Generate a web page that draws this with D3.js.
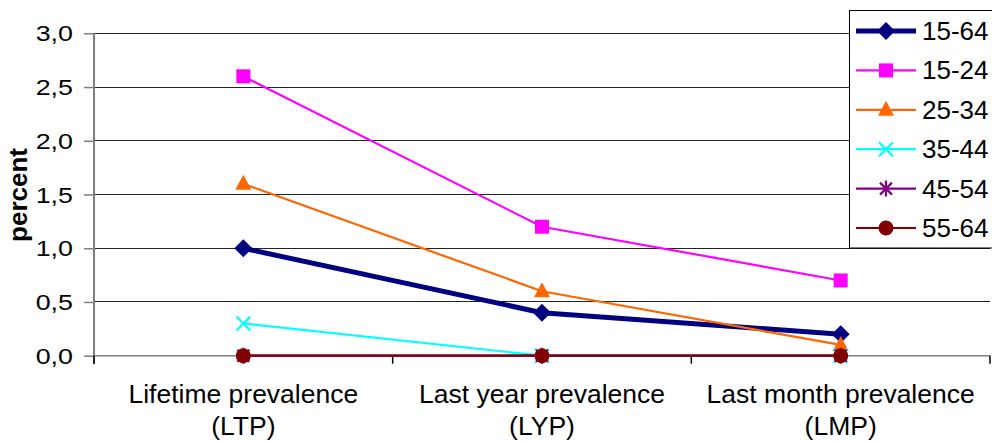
<!DOCTYPE html>
<html><head><meta charset="utf-8">
<script src="https://cdn.jsdelivr.net/npm/d3@7"></script>
<style>
html,body{margin:0;padding:0;background:#fff;}
svg{display:block;font-family:"Liberation Sans",Arial,sans-serif;}
</style></head>
<body><svg id="c" width="992" height="441"></svg>
<script>
const categories = [["Lifetime prevalence","(LTP)"],["Last year prevalence","(LYP)"],["Last month prevalence","(LMP)"]];
const seriesNames = ["15-64","15-24","25-34","35-44","45-54","55-64"];
const v1564 = [1.0, 0.4, 0.2];
const v1524 = [2.6, 1.2, 0.7];
const v2534 = [1.6, 0.6, 0.1];
const v3544 = [0.3, 0.0, 0.0];
const v4554 = [0.0, 0.0, 0.0];
const v5564 = [0.0, 0.0, 0.0];
const yTicks = [0, 0.5, 1.0, 1.5, 2.0, 2.5, 3.0];
const yTitle = "percent";

const colors = ["#000080","#FF00FF","#FF6600","#00FFFF","#800080","#800000"];
const markers = ["diamond","square","triangle","x","asterisk","circle"];
const widths = [5,2.2,2.2,2.2,2.2,2.2];
const seriesVals = [v1564,v1524,v2534,v3544,v4554,v5564];

const svg = d3.select("#c");
const x = d3.scaleBand().domain(d3.range(categories.length)).range([94,990]);
const y = d3.scaleLinear().domain([0,3]).range([355.7,33.3]);
const cx = i => x(i) + x.bandwidth()/2;

// gridlines
svg.append("g").selectAll("line").data(yTicks).join("line")
  .attr("x1",94).attr("x2",990).attr("y1",d=>y(d)).attr("y2",d=>y(d))
  .attr("stroke","#222").attr("stroke-width",1).attr("shape-rendering","crispEdges");

// y axis
const yAxis = d3.axisLeft(y).tickValues(yTicks).tickSize(10).tickFormat(d=>d3.format(".1f")(d).replace(".",","));
const ga = svg.append("g").attr("transform","translate(94,0)").call(yAxis);
ga.select(".domain").attr("stroke","#808080").attr("stroke-width",2).attr("d","M0,33.3V364");
ga.selectAll(".tick line").attr("stroke","#808080").attr("stroke-width",1.5);
ga.selectAll(".tick text").attr("font-size",22).attr("fill","#000").attr("font-family","Liberation Sans, Arial")
  .attr("x",null).attr("dy",null).attr("dominant-baseline","central")
  .attr("transform","translate(-21,0) scale(1.22,1)");

// x axis
const xAxis = d3.axisBottom(x).tickSize(0).tickFormat("");
const gx = svg.append("g").attr("transform","translate(0,355.7)").call(xAxis);
gx.select(".domain").attr("stroke","#808080").attr("stroke-width",1.5).attr("d","M94,0H990");
gx.selectAll(".bnd").data(d3.range(categories.length+1)).join("line").attr("class","bnd")
  .attr("x1",d=>94+d*x.bandwidth()).attr("x2",d=>94+d*x.bandwidth()).attr("y1",0).attr("y2",8)
  .attr("stroke","#000").attr("stroke-width",1.5);
const lab = svg.append("g");
categories.forEach((c,i)=>{
  const t = lab.append("text").attr("text-anchor","middle").attr("font-size",26.5).attr("fill","#000");
  t.append("tspan").attr("x",cx(i)).attr("y",402.5).text(c[0]);
  t.append("tspan").attr("x",cx(i)).attr("y",435).text(c[1]);
});

// y title
svg.append("text").attr("transform","translate(27,195) rotate(-90)").attr("text-anchor","middle")
  .attr("font-size",26).attr("font-weight","bold").text(yTitle);

function drawMarker(g, type, color, px, py){
  if(type==="diamond"){
    g.append("path").attr("d",`M${px},${py-9}L${px+9},${py}L${px},${py+9}L${px-9},${py}Z`).attr("fill",color);
  } else if(type==="square"){
    g.append("rect").attr("x",px-7).attr("y",py-7).attr("width",14).attr("height",14).attr("fill",color);
  } else if(type==="triangle"){
    g.append("path").attr("d",`M${px},${py-9}L${px+8},${py+6}L${px-8},${py+6}Z`).attr("fill",color);
  } else if(type==="x"){
    g.append("path").attr("d",`M${px-7},${py-7}L${px+7},${py+7}M${px-7},${py+7}L${px+7},${py-7}`).attr("stroke",color).attr("stroke-width",2.2);
  } else if(type==="asterisk"){
    g.append("path").attr("d",`M${px-6},${py-6}L${px+6},${py+6}M${px-6},${py+6}L${px+6},${py-6}M${px},${py-8}L${px},${py+8}`).attr("stroke",color).attr("stroke-width",2.2);
  } else if(type==="circle"){
    g.append("circle").attr("cx",px).attr("cy",py).attr("r",7.5).attr("fill",color);
  }
}

const line = d3.line().x((d,i)=>cx(i)).y(d=>y(d));
const gs = svg.append("g");
seriesVals.forEach((vals,s)=>{
  const g = gs.append("g");
  g.append("path").datum(vals).attr("d",line).attr("fill","none").attr("stroke",colors[s]).attr("stroke-width",widths[s]).attr("stroke-linejoin","round");
  vals.forEach((v,i)=>drawMarker(g, markers[s], colors[s], cx(i), y(v)));
});

// legend
const lg = svg.append("g");
lg.append("rect").attr("x",849.5).attr("y",10.5).attr("width",150).attr("height",237.5).attr("fill","#fff").attr("stroke","#000").attr("stroke-width",1);
seriesNames.forEach((n,s)=>{
  const ly = 31 + s*39.4;
  const g = lg.append("g");
  g.append("line").attr("x1",856).attr("x2",916).attr("y1",ly).attr("y2",ly).attr("stroke",colors[s]).attr("stroke-width",widths[s]);
  drawMarker(g, markers[s], colors[s], 886, ly);
  g.append("text").attr("x",922).attr("y",ly).attr("dominant-baseline","central").attr("font-size",26).attr("fill","#000").text(n);
});
</script></body></html>
